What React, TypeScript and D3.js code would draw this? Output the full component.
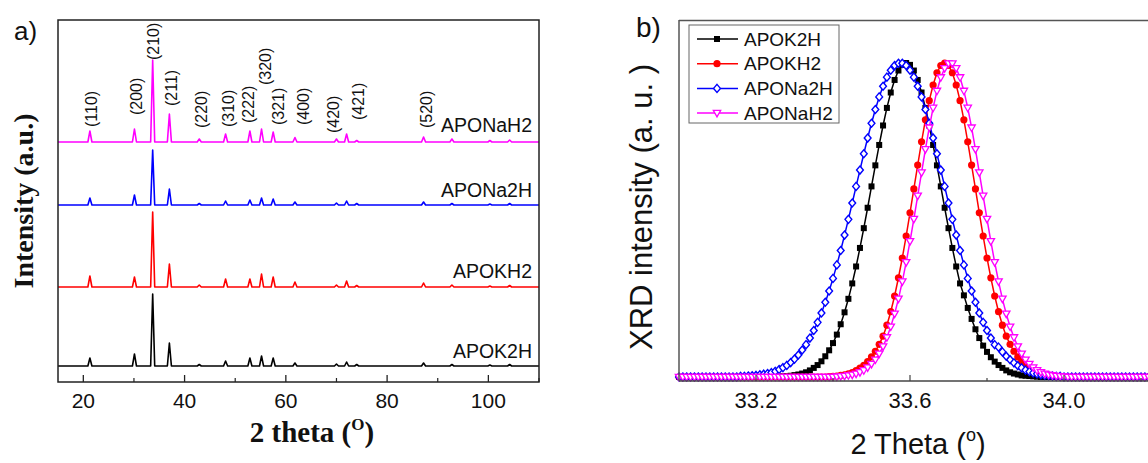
import React from "react";
import * as d3 from "d3";

// ---------- Panel a: powder patterns ----------
const PEAK_2THETA = [21.3, 30.1, 33.7, 37.0, 42.9, 48.1, 52.9, 55.2, 57.5, 61.8, 70.0, 72.0, 74.0, 87.2, 92.8, 100.3, 104.2];
const I_APOK2H = [8, 12, 72, 23, 1.5, 5, 8, 10, 8, 3, 2, 4, 1.5, 3, 1.5, 1, 1.5];
const I_APOKH2 = [11, 10, 75, 23, 2, 8, 8, 13, 10, 5, 2, 6, 1.5, 4, 2, 1, 1.5];
const I_APONa2H = [7, 10, 55, 16, 1.5, 4, 5, 7, 6, 3, 2, 4, 1.5, 3, 1.5, 1, 1.5];
const I_APONaH2 = [11, 13, 82, 28, 3, 8, 11, 13, 10, 4.5, 3, 8, 1.5, 5, 3, 1.5, 2];
const STACK_OFFSETS = [16, 95, 177, 240];
const SAMPLE_NAMES = ["APOK2H", "APOKH2", "APONa2H", "APONaH2"];
const HKL_LABELS = ["(110)", "(200)", "(210)", "(211)", "(220)", "(310)", "(222)", "(320)", "(321)", "(400)", "(420)", "(421)", "(520)"];
const HKL_2THETA = [21.5, 30.4, 33.8, 37.3, 43.4, 48.6, 52.7, 55.9, 58.6, 63.4, 69.3, 74.3, 87.7];
const HKL_LIFT = [15, 27, 82, 36, 14, 15, 19, 57, 17, 17, 9, 22, 14];
const A_TICKS = [20, 40, 60, 80, 100];
const A_MINOR = [30, 50, 70, 90, 110];

// ---------- Panel b: (210) peak profiles, 2θ from 33.00 step 0.01 ----------
const B_START = 33.0;
const B_STEP = 0.01;
const B_APOK2H = [
  0,0,0,0,0,0,0,0,0,0,0,0,0,0,0,0,0,0,0,0,0,0,0,0,0,0,
  .001,.002,.003,.004,.006,.008,.011,.015,.021,.029,.038,.050,.066,.085,.108,.135,.168,.206,.249,.298,.352,.411,.474,.539,.607,.674,.739,.801,.857,.906,.946,.976,.994,
  1.0,
  .994,.976,.946,.906,.857,.801,.739,.674,.607,.539,.474,.411,.352,.298,.260,.220,.185,.152,.124,.100,.080,.063,.049,.038,.029,.021,.015,.011,.008,.005,.004,.003,.002,.001,
  0,0,0,0,0,0,0,0,0,0,0,0,0,0,0,0,0,0,0,0,0,0,0,0,0,0,0,0,0,0,0,0
];
const B_APOKH2 = [
  0,0,0,0,0,0,0,0,0,0,0,0,0,0,0,0,0,0,0,0,0,0,0,0,0,0,0,0,0,0,0,0,0,0,0,0,0,0,0,
  .001,.002,.003,.005,.007,.010,.014,.020,.028,.037,.049,.064,.082,.104,.130,.165,.208,.258,.316,.379,.449,.523,.599,.675,.749,.819,.880,.930,.969,.992,
  1.0,
  .992,.969,.930,.880,.819,.749,.675,.599,.523,.449,.379,.316,.258,.208,.165,.130,.104,.082,.064,.049,.037,.028,.020,.014,.010,.007,.005,.003,.002,.001,
  0,0,0,0,0,0,0,0,0,0,0,0,0,0,0,0,0,0,0,0,0,0,0,0,0,0
];
const B_APONa2H = [
  0,0,0,0,0,0,0,0,0,0,0,0,0,0,0,0,
  .002,.002,.003,.004,.005,.007,.009,.011,.014,.018,.024,.030,.037,.046,.057,.070,.086,.103,.124,.148,.174,.204,.238,.274,.314,.357,.403,.452,.502,.554,.607,.659,.711,.761,.808,.852,.892,.926,.955,.977,.992,.999,
  .999,.992,.977,.955,.926,.892,.852,.808,.761,.711,.659,.607,.554,.502,.452,.403,.357,.314,.274,.238,.204,.174,.148,.124,.103,.095,.080,.066,.055,.045,.036,.029,.022,.017,.013,.010,.007,.005,.004,.003,.002,.002,
  0,0,0,0,0,0,0,0,0,0,0,0,0,0,0,0,0,0,0,0,0,0,0,0,0,0
];
const B_APONaH2 = [
  0,0,0,0,0,0,0,0,0,0,0,0,0,0,0,0,0,0,0,0,0,0,0,0,0,0,0,0,0,0,0,0,0,0,0,0,0,0,0,0,0,
  .001,.002,.003,.005,.007,.010,.015,.021,.030,.041,.055,.074,.097,.126,.160,.201,.249,.304,.365,.432,.503,.577,.651,.725,.794,.857,.911,.954,.983,.998,
  .998,.983,.954,.911,.857,.794,.725,.651,.577,.503,.432,.365,.304,.249,.201,.160,.126,.097,.074,.055,.041,.030,.021,.015,.010,.007,.005,.003,.002,.001,
  0,0,0,0,0,0,0,0,0,0,0,0,0,0,0,0,0,0,0,0,0,0,0,0,0
];
const B_TICKS = [33.2, 33.6, 34.0];
const B_MINOR = [33.4, 33.8, 34.2];

const COLORS = ["#000000", "#ff0000", "#0000ff", "#ff00ff"];
const SANS = "'Liberation Sans', Arial, Helvetica, sans-serif";
const SERIF = "'Liberation Serif', 'Times New Roman', serif";

function Marker({ kind, x, y, color }: { kind: number; x: number; y: number; color: string }) {
  if (kind === 0) return <rect x={x - 3} y={y - 3} width={6} height={6} fill={color} />;
  if (kind === 1) return <circle cx={x} cy={y} r={3.6} fill={color} />;
  if (kind === 2)
    return <path d={`M${x},${y - 4}L${x + 3.4},${y}L${x},${y + 4}L${x - 3.4},${y}Z`} fill="white" stroke={color} strokeWidth={1.4} />;
  return <path d={`M${x - 3.7},${y - 2.7}L${x + 3.7},${y - 2.7}L${x},${y + 3.8}Z`} fill="white" stroke={color} strokeWidth={1.3} />;
}

export default function App() {
  // Panel a scales
  const xA = d3.scaleLinear().domain([15, 110]).range([58, 539]);
  const yA = d3.scaleLinear().domain([0, 362]).range([382, 20]);
  const aSeries = [I_APOK2H, I_APOKH2, I_APONa2H, I_APONaH2];
  const lineA = d3.line<[number, number]>().x((d) => xA(d[0])).y((d) => yA(d[1]));
  const aPaths = aSeries.map((ints, s) => {
    const pts: [number, number][] = [[15, STACK_OFFSETS[s]]];
    PEAK_2THETA.forEach((p, k) => {
      pts.push([p - 0.4, STACK_OFFSETS[s]], [p, STACK_OFFSETS[s] + ints[k]], [p + 0.4, STACK_OFFSETS[s]]);
    });
    pts.push([110, STACK_OFFSETS[s]]);
    return lineA(pts) as string;
  });
  const nameBaselines = [358, 278, 197, 132];

  // Panel b scales
  const xB = d3.scaleLinear().domain([33.0, 34.3]).range([679, 1179.5]);
  const yB = d3.scaleLinear().domain([0, 1]).range([377, 63]);
  const bSeries = [B_APOK2H, B_APOKH2, B_APONa2H, B_APONaH2];
  const lineB = d3.line<number>().x((_, i) => xB(B_START + i * B_STEP)).y((d) => yB(d));

  return (
    <svg width={1148} height={463} style={{ position: "absolute", left: 0, top: 0, background: "white" }}>
      <rect width={1148} height={463} fill="white" />
      {/* ---------------- Panel a ---------------- */}
      <text x={14} y={40} fontFamily={SANS} fontSize={26} fill="#111">a)</text>
      {aPaths.map((d, s) => (
        <path key={s} d={d} fill="none" stroke={COLORS[s]} strokeWidth={1.6} strokeLinejoin="round" />
      ))}
      <rect x={58} y={20} width={481} height={362} fill="none" stroke="#222" strokeWidth={1.5} />
      {A_TICKS.map((t) => (
        <g key={t}>
          <line x1={xA(t)} x2={xA(t)} y1={382} y2={375} stroke="#222" strokeWidth={1.3} />
          <text x={xA(t)} y={408} textAnchor="middle" fontFamily={SANS} fontSize={21} fill="#111">{t}</text>
        </g>
      ))}
      {A_MINOR.map((t) => (
        <line key={t} x1={xA(t)} x2={xA(t)} y1={382} y2={378} stroke="#222" strokeWidth={1.2} />
      ))}
      {HKL_LABELS.map((lab, k) => (
        <text key={lab} transform={`translate(${xA(HKL_2THETA[k])},${yA(STACK_OFFSETS[3] + HKL_LIFT[k])}) rotate(-90)`} dy="0.35em"
          fontFamily={SANS} fontSize={16} fill="#111">{lab}</text>
      ))}
      {SAMPLE_NAMES.map((n, s) => (
        <text key={n} x={532} y={nameBaselines[s]} textAnchor="end" fontFamily={SANS} fontSize={19.5} fill="#111">{n}</text>
      ))}
      <text transform="translate(33,201) rotate(-90)" textAnchor="middle" fontFamily={SERIF} fontWeight="bold" fontSize={28} fill="#111">
        Intensity (a.u.)
      </text>
      <text x={312} y={442} textAnchor="middle" fontFamily={SERIF} fontWeight="bold" fontSize={29} fill="#111">
        2 theta (<tspan fontSize={17} dy={-12}>O</tspan><tspan dy={12}>)</tspan>
      </text>

      {/* ---------------- Panel b ---------------- */}
      <text x={636} y={37} fontFamily={SANS} fontSize={28} fill="#111">b)</text>
      {bSeries.map((vals, s) => (
        <g key={s}>
          <path d={lineB(vals) as string} fill="none" stroke={COLORS[s]} strokeWidth={1.5} />
          {vals.map((v, i) => (
            <Marker key={i} kind={s} x={xB(B_START + i * B_STEP)} y={yB(v)} color={COLORS[s]} />
          ))}
        </g>
      ))}
      <line x1={679} x2={1148} y1={20.5} y2={20.5} stroke="#555" strokeWidth={1.5} />
      <line x1={679} x2={679} y1={20} y2={381} stroke="#555" strokeWidth={1.5} />
      <line x1={679} x2={1148} y1={381} y2={381} stroke="#444" strokeWidth={1.5} />
      {B_TICKS.map((t) => (
        <g key={t}>
          <line x1={xB(t)} x2={xB(t)} y1={381} y2={375} stroke="#444" strokeWidth={1.2} />
          <text x={xB(t)} y={408} textAnchor="middle" fontFamily={SANS} fontSize={22} fill="#111">{t.toFixed(1)}</text>
        </g>
      ))}
      {B_MINOR.map((t) => (
        <line key={t} x1={xB(t)} x2={xB(t)} y1={381} y2={378} stroke="#444" strokeWidth={1.2} />
      ))}
      <g>
        <rect x={689} y={25} width={150} height={98} fill="white" stroke="#666" strokeWidth={1} />
        {SAMPLE_NAMES.map((n, s) => {
          const ly = 39 + s * 24.7;
          return (
            <g key={n}>
              <line x1={697} x2={738} y1={ly} y2={ly} stroke={COLORS[s]} strokeWidth={1.5} />
              <Marker kind={s} x={717} y={ly} color={COLORS[s]} />
              <text x={744} y={ly} dy="0.35em" fontFamily={SANS} fontSize={19} fill="#111">{n}</text>
            </g>
          );
        })}
      </g>
      <text transform="translate(652,207) rotate(-90)" textAnchor="middle" fontFamily={SANS} fontSize={31} fill="#111">
        XRD intensity (a. u. )
      </text>
      <text x={918} y={454} textAnchor="middle" fontFamily={SANS} fontSize={29} fill="#111">
        2 Theta (<tspan fontSize={18} dy={-13}>o</tspan><tspan dy={13}>)</tspan>
      </text>
    </svg>
  );
}
